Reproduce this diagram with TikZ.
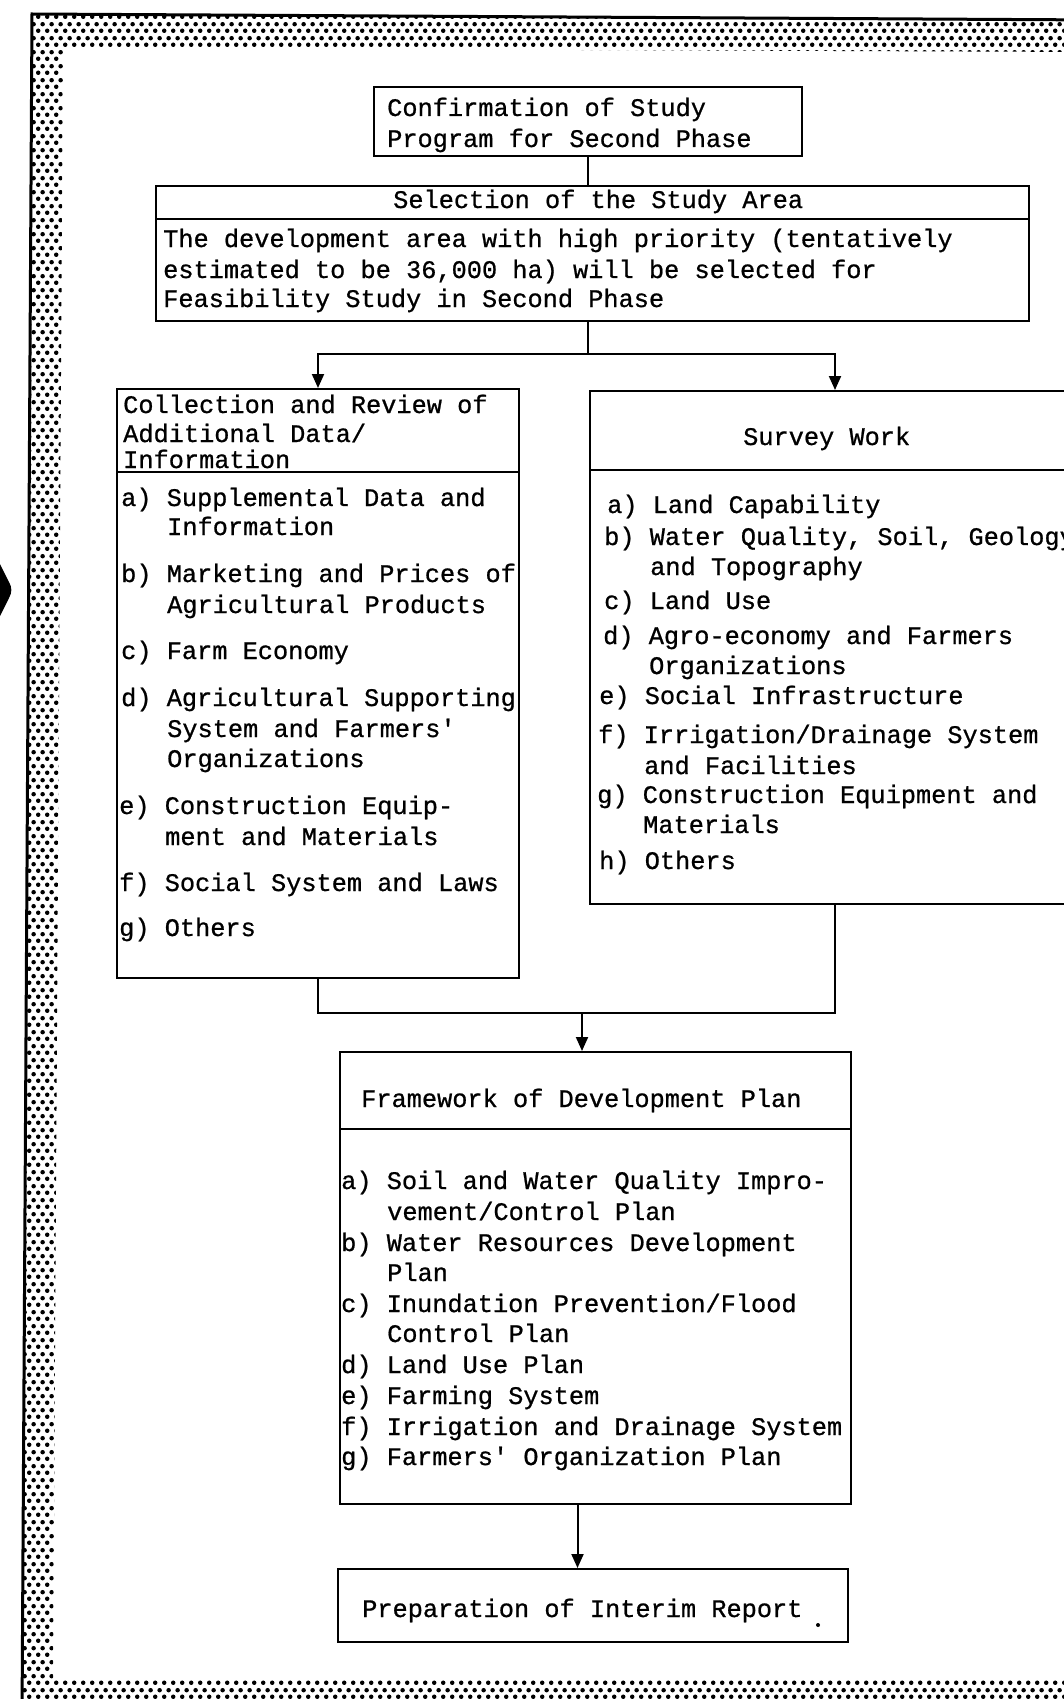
\documentclass[tikz,border=0pt]{standalone}
\usepackage{fontspec}
\newfontfamily\twfont[FakeBold=0.8]{Liberation Mono}
\usetikzlibrary{arrows.meta,patterns}

% halftone screen used for the page frame
\pgfdeclarepatternformonly{halftone}{\pgfpointorigin}{\pgfpoint{9.4pt}{14pt}}{\pgfpoint{9.4pt}{14pt}}{%
  \pgfpathcircle{\pgfpoint{2.35pt}{3.5pt}}{2.4pt}%
  \pgfpathcircle{\pgfpoint{7.05pt}{10.5pt}}{2.4pt}%
  \pgfusepath{fill}%
}

\tikzset{
  box/.style={draw, line width=2pt, inner sep=0pt, anchor=north west},
  conn/.style={line width=2pt},
  arr/.style={line width=2pt, -{Triangle[length=14pt,width=12pt]}},
  txt/.style={anchor=base west, inner sep=0pt, font=\twfont\fontsize{25.3}{31}\selectfont},
}

\begin{document}
\begin{tikzpicture}[x=1pt,y=-1pt]
\useasboundingbox (0,0) rectangle (1064,1699);
\clip (0,0) rectangle (1064,1699);

% page frame
\fill[pattern=halftone, even odd rule]
  (32,14) -- (1100,20) -- (1100,1720) -- (22,1720) -- cycle
  (63,48) -- (1090,52) -- (1090,1680) -- (53,1680) -- cycle;
\draw[line width=3pt] (22,1720) -- (32,14) -- (1100,20);

% arrow tip coming in from the left margin
\fill (0,564) -- (9,582) to[out=-60,in=60] (9,598) -- (0,616) -- cycle;

% boxes
\node[box, minimum width=428pt, minimum height=69pt]  (conf) at (373,86)   {};
\node[box, minimum width=873pt, minimum height=135pt] (sel)  at (155,185)  {};
\node[box, minimum width=402pt, minimum height=589pt] (coll) at (116,388)  {};
\node[box, minimum width=490pt, minimum height=513pt] (surv) at (589,390)  {};
\node[box, minimum width=511pt, minimum height=452pt] (fw)   at (339,1051) {};
\node[box, minimum width=510pt, minimum height=73pt]  (rep)  at (337,1568) {};

% header dividers
\coordinate (selcut)  at (0,219);
\coordinate (collcut) at (0,472);
\coordinate (survcut) at (0,470);
\coordinate (fwcut)   at (0,1129);
\draw[conn] (sel.west |- selcut) -- (sel.east |- selcut);
\draw[conn] (coll.west |- collcut) -- (coll.east |- collcut);
\draw[conn] (surv.west |- survcut) -- (surv.east |- survcut);
\draw[conn] (fw.west |- fwcut) -- (fw.east |- fwcut);

% connectors
\coordinate (split) at (588,354);
\coordinate (merge) at (582,1013);
\draw[conn] (conf.south) -- (conf.south |- sel.north);
\draw[conn] (sel.south -| split) -- (split);
\draw[arr] (split) -| (coll.north);
\draw[arr] (split) -| (surv.north);
\draw[conn] (coll.south) |- (merge);
\draw[conn] (surv.south) |- (merge);
\draw[arr] (merge) -- (merge |- fw.north);
\draw[arr] ([xshift=-18pt]fw.south) -- ([xshift=-18pt]fw.south |- rep.north);

% Confirmation of Study Program
\node[txt] (conf1) at (387,116) {Confirmation of Study};
\node[txt] (conf2) at (387,147) {Program for Second Phase};

% Selection of the Study Area
\node[txt] (selh) at (393,208) {Selection of the Study Area};
\node[txt] (sel1) at (163,247) {The development area with high priority (tentatively};
\node[txt] (sel2) at (163,278) {estimated to be 36,000 ha) will be selected for};
\node[txt] (sel3) at (163,307) {Feasibility Study in Second Phase};

% Collection and Review of Additional Data/Information
\node[txt] (collh1) at (123,413) {Collection and Review of};
\node[txt] (collh2) at (123,442) {Additional Data/};
\node[txt] (collh3) at (123,468) {Information};
\node[txt] (ca1) at (121,506) {a) Supplemental Data and};
\node[txt] (ca2) at (167,535) {Information};
\node[txt] (cb1) at (121,582) {b) Marketing and Prices of};
\node[txt] (cb2) at (167,613) {Agricultural Products};
\node[txt] (cc1) at (121,659) {c) Farm Economy};
\node[txt] (cd1) at (121,706) {d) Agricultural Supporting};
\node[txt] (cd2) at (167,737) {System and Farmers'};
\node[txt] (cd3) at (167,767) {Organizations};
\node[txt] (ce1) at (119,814) {e) Construction Equip-};
\node[txt] (ce2) at (165,845) {ment and Materials};
\node[txt] (cf1) at (119,891) {f) Social System and Laws};
\node[txt] (cg1) at (119,936) {g) Others};

% Survey Work
\node[txt] (survh) at (743,445) {Survey Work};
\node[txt] (sa1) at (607,513) {a) Land Capability};
\node[txt] (sb1) at (604,545) {b) Water Quality, Soil, Geology};
\node[txt] (sb2) at (650,575) {and Topography};
\node[txt] (sc1) at (604,609) {c) Land Use};
\node[txt] (sd1) at (603,644) {d) Agro-economy and Farmers};
\node[txt] (sd2) at (649,674) {Organizations};
\node[txt] (se1) at (599,704) {e) Social Infrastructure};
\node[txt] (sf1) at (598,743) {f) Irrigation/Drainage System};
\node[txt] (sf2) at (644,774) {and Facilities};
\node[txt] (sg1) at (597,803) {g) Construction Equipment and};
\node[txt] (sg2) at (643,833) {Materials};
\node[txt] (sh1) at (599,869) {h) Others};

% Framework of Development Plan
\node[txt] (fwh) at (361,1107) {Framework of Development Plan};
\node[txt] (fa1) at (341,1189) {a) Soil and Water Quality Impro-};
\node[txt] (fa2) at (387,1220) {vement/Control Plan};
\node[txt] (fb1) at (341,1251) {b) Water Resources Development};
\node[txt] (fb2) at (387,1281) {Plan};
\node[txt] (fc1) at (341,1312) {c) Inundation Prevention/Flood};
\node[txt] (fc2) at (387,1342) {Control Plan};
\node[txt] (fd1) at (341,1373) {d) Land Use Plan};
\node[txt] (fe1) at (341,1404) {e) Farming System};
\node[txt] (ff1) at (341,1435) {f) Irrigation and Drainage System};
\node[txt] (fg1) at (341,1465) {g) Farmers' Organization Plan};

% Preparation of Interim Report
\node[txt] (reph) at (362,1617) {Preparation of Interim Report};
\fill (818,1625) circle (2pt);
\end{tikzpicture}
\end{document}
